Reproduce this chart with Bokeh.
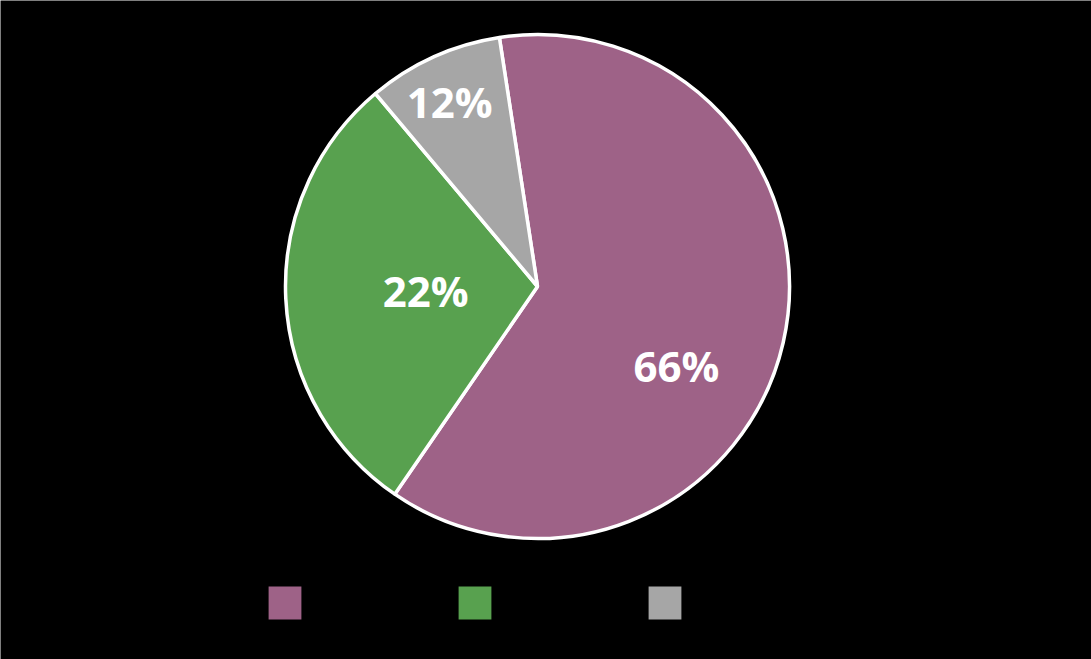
import math
from bokeh.plotting import figure
from bokeh.models import ColumnDataSource, Legend, LegendItem
from bokeh.core.properties import value
from bokeh.embed import file_html
from bokeh.resources import INLINE

# Data
categories = ["A", "B", "C"]
slice_shares = [62.0, 29.3, 8.7]          # drawn slice sizes
label_texts = ["66%", "22%", "12%"]       # printed labels
colors = ["#9E6287", "#58A14F", "#A6A6A6"]

# Label placement (polar offsets from centre, layout only)
label_angle_deg = [-30.5, 183.6, 115.8]
label_radius_frac = [0.64, 0.445, 0.80]

W, H = 1091, 659
cx, cy, R = 537, 373, 252
start_deg = 98.7

p = figure(width=W, height=H, x_range=(0, W), y_range=(0, H),
           output_backend="svg", toolbar_location=None,
           background_fill_color="black", border_fill_color="black",
           min_border=0, outline_line_color=None)
p.axis.visible = False
p.grid.visible = False

total = sum(slice_shares)
starts, ends = [], []
a = math.radians(start_deg)
for s in slice_shares:
    starts.append(a)
    a -= 2 * math.pi * s / total
    ends.append(a)

src = ColumnDataSource(dict(x=[cx] * 3, y=[cy] * 3, start=starts, end=ends,
                            color=colors, cat=categories))
p.wedge(x="x", y="y", radius=R, start_angle="start", end_angle="end",
        direction="clock", fill_color="color", line_color="white",
        line_width=3.5, source=src)

lx = [cx + f * R * math.cos(math.radians(d)) for f, d in zip(label_radius_frac, label_angle_deg)]
ly = [cy + f * R * math.sin(math.radians(d)) for f, d in zip(label_radius_frac, label_angle_deg)]
p.text(x=lx, y=ly, text=label_texts, text_align="center", text_baseline="middle",
       text_color="white", text_font=value("Open Sans"), text_font_style="bold",
       text_font_size="42px", y_offset=-3)

# legend swatches: zero-size quads (draw nothing on the plot), one per category
items = []
for c, col in zip(categories, colors):
    rr = p.quad(left=[cx], right=[cx], top=[cy], bottom=[cy],
                fill_color=col, line_color=None)
    items.append(LegendItem(label=value(c), renderers=[rr]))
legend = Legend(items=items, orientation="horizontal", location=(264, 36),
                glyph_width=41, glyph_height=41, label_standoff=6, spacing=0,
                label_width=143, padding=0, margin=0,
                background_fill_color="black", background_fill_alpha=1,
                border_line_color=None, label_text_color="black",
                label_text_font_size="14px")
p.add_layout(legend, "center")

open("out.html", "w").write(file_html(p, INLINE))
